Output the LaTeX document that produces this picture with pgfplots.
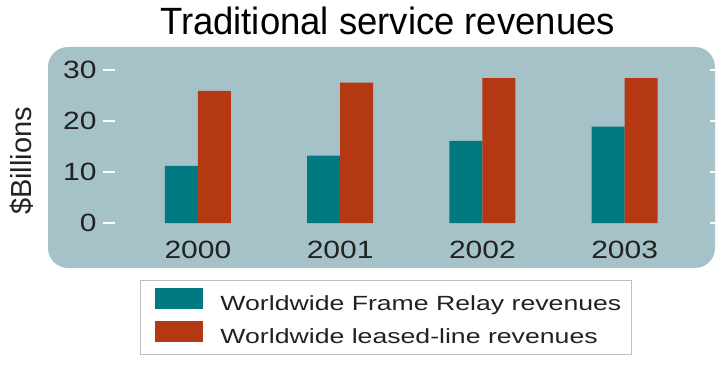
\documentclass[border=0pt]{standalone}
\usepackage{fontspec}
\setmainfont{Liberation Sans}
\newfontfamily\tickfont{Liberation Sans}[FakeStretch=1.2]
\newfontfamily\legfont{Liberation Sans}[FakeStretch=1.3]
\newfontfamily\titlefont{Liberation Sans}[FakeStretch=0.96]
\usepackage{pgfplots}
\pgfplotsset{compat=1.18}
\definecolor{bgc}{RGB}{166,194,201}
\definecolor{tealbar}{RGB}{0,122,128}
\definecolor{redbar}{RGB}{180,56,18}
\definecolor{txt}{RGB}{34,34,34}
\begin{document}
\begin{tikzpicture}
\useasboundingbox (0,0) rectangle (720pt,372pt);
\fill[bgc, rounded corners=20pt] (48pt,104pt) rectangle (715pt,325pt);
\node[font=\titlefont\fontsize{38}{40}\selectfont, text=black] at (387.5pt,351pt) {Traditional service revenues};
\node[rotate=90, font=\fontsize{29}{30}\selectfont, text=txt] at (22pt,211pt) {\$Billions};
\begin{axis}[
 at={(115pt,149pt)}, anchor=south west,
 scale only axis, width=595pt, height=153pt,
 xmin=-0.583, xmax=3.6, ymin=0, ymax=30,
 ybar=0pt, bar width=33pt,
 xtick={0,1,2,3}, xticklabels={2000,2001,2002,2003},
 ytick={0,10,20,30},
 axis line style={draw=none},
 tick align=outside,
 major tick length=12pt,
 xtick style={draw=none},
 ytick style={white, line width=1.8pt},
 tick label style={font=\tickfont\fontsize{25}{30}\selectfont, text=txt},
 xticklabel style={yshift=-3pt},
 yticklabel style={xshift=-3pt},
 /pgf/number format/assume math mode=true,
 legend cell align=left,
 legend image code/.code={\path[draw=none,fill=none] (0pt,-4pt) rectangle (1pt,1pt); \fill[#1] (10pt,-4pt) rectangle (58pt,17pt);},
 legend style={at={(axis description cs:0.042,-0.3725)}, anchor=north west,
   draw=black!25, line width=1pt, fill=white,
   font=\legfont\fontsize{20.5}{24}\selectfont, text=txt,
   inner xsep=5pt, inner ysep=7.5pt, row sep=6.5pt,
   nodes={inner xsep=5pt, inner ysep=0pt, text height=15pt, text depth=4pt},
   /tikz/every odd column/.append style={column sep=12pt}},
]
\addplot[fill=tealbar, draw=none] coordinates {(0,11.2) (1,13.2) (2,16.1) (3,18.9)};
\addplot[fill=redbar, draw=none] coordinates {(0,25.9) (1,27.5) (2,28.4) (3,28.4)};
\legend{Worldwide Frame Relay revenues, Worldwide leased-line revenues}
\end{axis}
\end{tikzpicture}
\end{document}
